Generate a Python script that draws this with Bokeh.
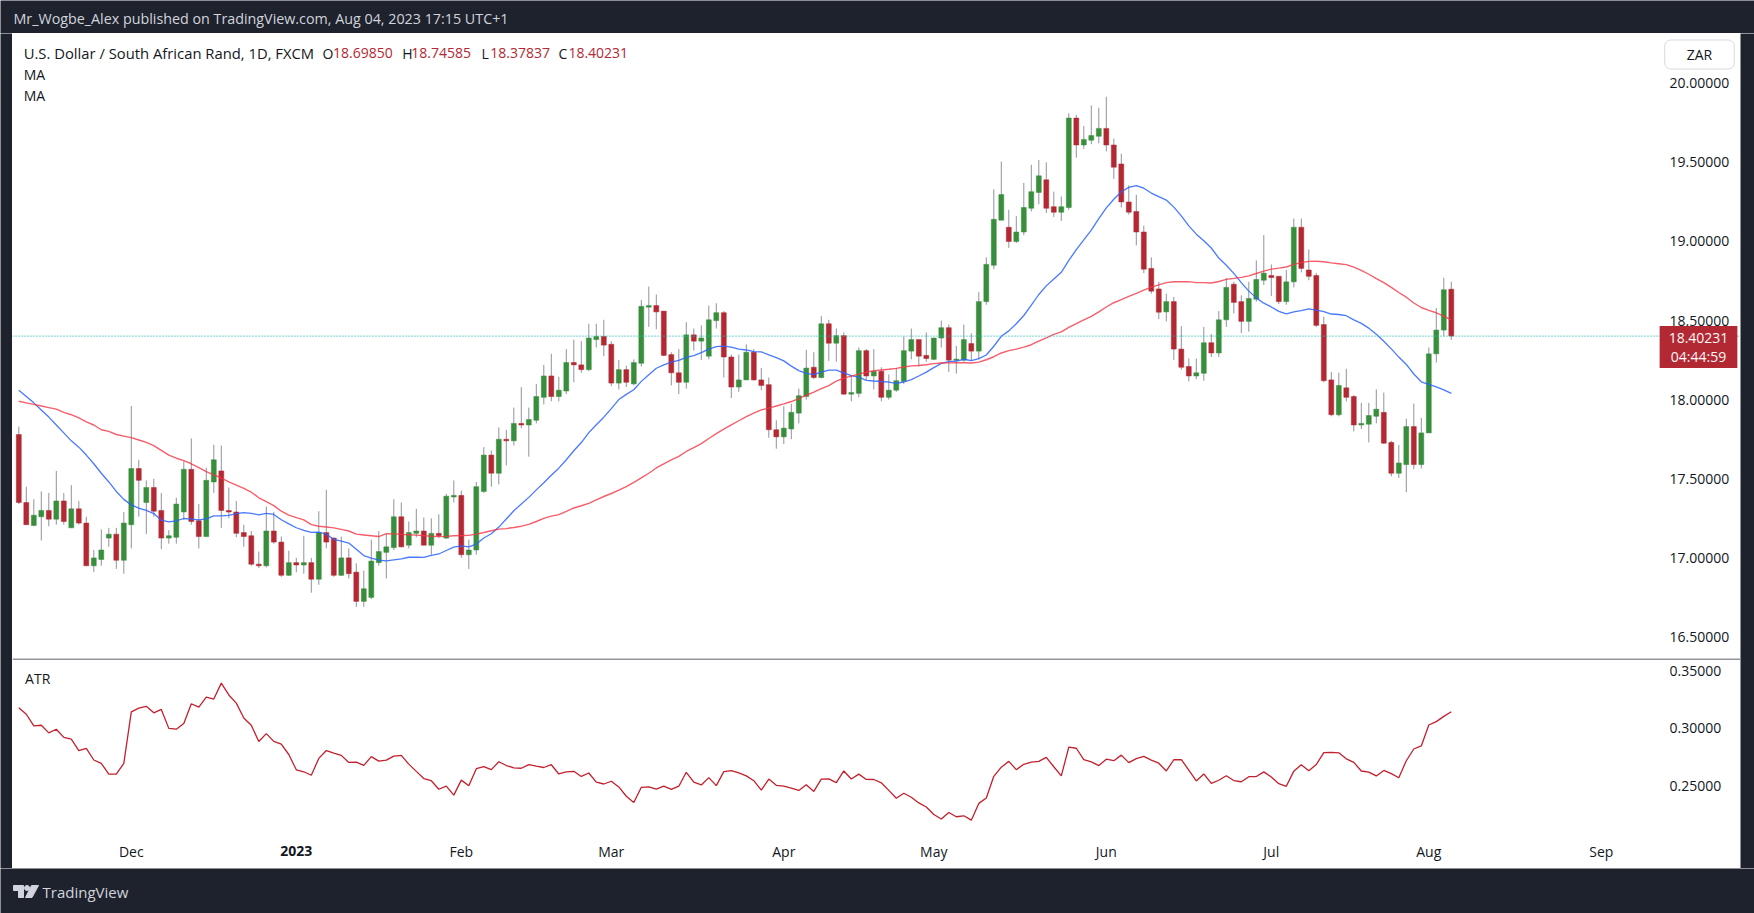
import numpy as np
import pandas as pd
from bokeh.plotting import figure
from bokeh.layouts import column, row
from bokeh.models import Range1d, FixedTicker, PrintfTickFormatter, Label, Span, ColumnDataSource
from bokeh.embed import file_html
from bokeh.resources import INLINE

# ---------------- data ----------------
opens = [17.78, 17.35, 17.205, 17.26, 17.30, 17.245, 17.36, 17.19, 17.31, 17.22,
         16.95, 16.99, 17.125, 17.15, 16.985, 17.21, 17.565, 17.35, 17.445, 17.30,
         17.125, 17.13, 17.29, 17.56, 17.235, 17.135, 17.48, 17.55, 17.30, 17.29,
         17.16, 17.14, 16.96, 16.95, 17.17, 17.10, 16.89, 16.97, 16.955, 16.97,
         16.865, 17.16, 17.125, 16.89, 17.00, 16.91, 16.725, 16.75, 16.97, 17.035,
         17.065, 17.26, 17.08, 17.155, 17.17, 17.08, 17.155, 17.125, 17.385, 17.395,
         17.02, 17.05, 17.42, 17.65, 17.535, 17.75, 17.74, 17.85, 17.84, 17.87,
         18.015, 18.15, 18.02, 18.055, 18.235, 18.22, 18.19, 18.38, 18.40, 18.35,
         18.105, 18.19, 18.10, 18.23, 18.585, 18.595, 18.56, 18.285, 18.17, 18.11,
         18.41, 18.37, 18.275, 18.50, 18.55, 18.27, 18.08, 18.125, 18.30, 18.125,
         18.095, 17.81, 17.765, 17.815, 17.915, 18.02, 18.205, 18.14, 18.48, 18.357,
         18.405, 18.035, 18.04, 18.31, 18.15, 18.18, 18.015, 18.06, 18.115, 18.307,
         18.38, 18.28, 18.255, 18.39, 18.455, 18.25, 18.25, 18.355, 18.307, 18.62,
         18.85, 19.135, 19.09, 19.00, 19.06, 19.21, 19.31, 19.39, 19.22, 19.185,
         19.215, 19.78, 19.61, 19.64, 19.665, 19.715, 19.61, 19.49, 19.25, 19.19,
         19.06, 18.83, 18.70, 18.555, 18.62, 18.32, 18.21, 18.15, 18.167, 18.36,
         18.295, 18.505, 18.73, 18.62, 18.495, 18.635, 18.755, 18.785, 18.78, 18.62,
         18.745, 19.09, 18.82, 18.785, 18.475, 18.125, 17.905, 18.075, 18.02, 17.84,
         17.845, 17.895, 17.92, 17.73, 17.535, 17.59, 17.83, 17.59, 17.79, 18.29,
         18.44, 18.6985]
highs = [17.83, 17.45, 17.37, 17.42, 17.41, 17.55, 17.41, 17.46, 17.36, 17.26,
         17.05, 17.18, 17.19, 17.19, 17.29, 17.96, 17.62, 17.49, 17.50, 17.41,
         17.175, 17.38, 17.61, 17.755, 17.34, 17.57, 17.715, 17.71, 17.445, 17.36,
         17.21, 17.17, 17.04, 17.325, 17.29, 17.135, 17.045, 17.00, 17.14, 17.00,
         17.295, 17.43, 17.13, 17.135, 17.06, 16.965, 16.92, 17.115, 17.17, 17.155,
         17.37, 17.35, 17.23, 17.31, 17.255, 17.25, 17.275, 17.405, 17.49, 17.425,
         17.115, 17.48, 17.70, 17.68, 17.825, 17.81, 17.95, 18.08, 17.95, 18.10,
         18.22, 18.29, 18.145, 18.32, 18.38, 18.37, 18.48, 18.48, 18.505, 18.37,
         18.25, 18.215, 18.255, 18.63, 18.715, 18.665, 18.56, 18.30, 18.32, 18.49,
         18.45, 18.47, 18.595, 18.61, 18.56, 18.285, 18.285, 18.35, 18.32, 18.20,
         18.14, 17.87, 17.96, 17.975, 18.07, 18.315, 18.30, 18.53, 18.505, 18.45,
         18.425, 18.155, 18.33, 18.32, 18.32, 18.205, 18.16, 18.20, 18.40, 18.45,
         18.38, 18.425, 18.39, 18.50, 18.475, 18.34, 18.475, 18.42, 18.68, 18.90,
         19.33, 19.505, 19.20, 19.16, 19.37, 19.485, 19.515, 19.50, 19.315, 19.285,
         19.81, 19.80, 19.73, 19.86, 19.845, 19.915, 19.65, 19.555, 19.355, 19.295,
         19.10, 18.90, 18.745, 18.67, 18.65, 18.465, 18.26, 18.26, 18.46, 18.415,
         18.56, 18.77, 18.745, 18.66, 18.745, 18.88, 19.04, 18.855, 18.78, 18.82,
         19.145, 19.145, 18.95, 18.80, 18.525, 18.175, 18.17, 18.195, 18.03, 17.98,
         17.98, 18.065, 18.045, 17.74, 17.715, 17.88, 17.975, 17.885, 18.33, 18.58,
         18.77, 18.74585]
lows = [17.34, 17.21, 17.20, 17.11, 17.20, 17.21, 17.21, 17.19, 17.21, 16.95,
        16.91, 16.95, 17.07, 16.93, 16.90, 17.06, 17.26, 17.15, 17.26, 17.055,
        17.09, 17.09, 17.24, 17.21, 17.06, 17.13, 17.41, 17.19, 17.25, 17.13,
        17.07, 16.95, 16.935, 16.94, 17.09, 16.88, 16.885, 16.91, 16.90, 16.78,
        16.83, 17.06, 16.88, 16.885, 16.87, 16.69, 16.69, 16.74, 16.95, 16.87,
        17.05, 17.065, 17.06, 17.13, 17.08, 17.02, 17.125, 17.12, 17.35, 17.00,
        16.93, 17.02, 17.41, 17.45, 17.465, 17.585, 17.71, 17.82, 17.64, 17.85,
        17.97, 17.99, 17.99, 18.035, 18.11, 18.17, 18.18, 18.33, 18.275, 18.085,
        18.065, 18.08, 18.09, 18.21, 18.46, 18.445, 18.275, 18.09, 18.035, 18.07,
        18.31, 18.25, 18.255, 18.45, 18.14, 18.01, 18.05, 18.125, 18.12, 18.06,
        17.76, 17.69, 17.72, 17.75, 17.85, 18.00, 18.13, 18.135, 18.245, 18.24,
        18.03, 17.99, 18.015, 18.125, 18.065, 17.99, 18.00, 18.05, 18.10, 18.255,
        18.21, 18.24, 18.25, 18.33, 18.175, 18.165, 18.24, 18.25, 18.255, 18.60,
        18.825, 19.135, 18.96, 18.99, 19.04, 19.19, 19.235, 19.18, 19.155, 19.13,
        19.20, 19.53, 19.585, 19.615, 19.62, 19.57, 19.395, 19.215, 19.17, 18.975,
        18.80, 18.67, 18.51, 18.495, 18.25, 18.19, 18.115, 18.13, 18.12, 18.27,
        18.27, 18.46, 18.545, 18.42, 18.43, 18.62, 18.725, 18.655, 18.605, 18.60,
        18.71, 18.805, 18.755, 18.46, 18.11, 17.895, 17.895, 17.99, 17.80, 17.815,
        17.73, 17.85, 17.72, 17.515, 17.505, 17.415, 17.56, 17.565, 17.79, 18.235,
        18.40, 18.37837]
closes = [17.35, 17.21, 17.27, 17.30, 17.245, 17.36, 17.23, 17.31, 17.22, 16.95,
          17.00, 17.05, 17.15, 16.985, 17.22, 17.565, 17.49, 17.445, 17.295, 17.125,
          17.14, 17.34, 17.56, 17.23, 17.135, 17.49, 17.62, 17.30, 17.29, 17.155,
          17.135, 16.96, 16.95, 17.17, 17.10, 16.89, 16.97, 16.955, 16.97, 16.865,
          17.16, 17.10, 16.89, 17.00, 16.90, 16.725, 16.805, 16.98, 17.04, 17.07,
          17.26, 17.07, 17.16, 17.17, 17.08, 17.155, 17.14, 17.39, 17.395, 17.02,
          17.05, 17.45, 17.65, 17.535, 17.75, 17.74, 17.85, 17.84, 17.875, 18.02,
          18.15, 18.02, 18.06, 18.235, 18.22, 18.19, 18.39, 18.40, 18.345, 18.105,
          18.19, 18.11, 18.235, 18.59, 18.595, 18.555, 18.28, 18.17, 18.11, 18.41,
          18.37, 18.39, 18.505, 18.55, 18.27, 18.08, 18.125, 18.30, 18.125, 18.09,
          17.81, 17.765, 17.82, 17.92, 18.025, 18.20, 18.14, 18.48, 18.357, 18.405,
          18.035, 18.045, 18.31, 18.15, 18.18, 18.015, 18.06, 18.12, 18.31, 18.38,
          18.275, 18.26, 18.39, 18.455, 18.25, 18.255, 18.38, 18.307, 18.62, 18.855,
          19.14, 19.297, 19.00, 19.06, 19.215, 19.315, 19.415, 19.21, 19.185, 19.22,
          19.78, 19.61, 19.645, 19.67, 19.715, 19.61, 19.47, 19.25, 19.185, 19.06,
          18.825, 18.686, 18.553, 18.62, 18.32, 18.205, 18.15, 18.17, 18.36, 18.295,
          18.505, 18.71, 18.615, 18.495, 18.64, 18.76, 18.80, 18.772, 18.62, 18.745,
          19.09, 18.83, 18.78, 18.47, 18.12, 17.905, 18.09, 18.015, 17.84, 17.85,
          17.90, 17.94, 17.725, 17.535, 17.60, 17.83, 17.59, 17.79, 18.29, 18.44,
          18.695, 18.40231]

# moving-average values at the left edge (before enough history is on screen)
ma20_head = [18.06, 18.02, 17.98, 17.935, 17.89, 17.84, 17.79, 17.74, 17.70, 17.65,
             17.595, 17.535, 17.48, 17.42, 17.37, 17.335, 17.315, 17.30, 17.28]
ma50_head = [17.99, 17.98, 17.97, 17.96, 17.95, 17.94, 17.92, 17.905, 17.885, 17.86,
             17.84, 17.81, 17.80, 17.78, 17.77, 17.76, 17.745, 17.73, 17.71, 17.68,
             17.65, 17.63, 17.615, 17.595, 17.57, 17.545, 17.525, 17.505, 17.48, 17.46,
             17.44, 17.415, 17.38, 17.355, 17.33, 17.295, 17.27, 17.255, 17.24, 17.21,
             17.20, 17.195, 17.19, 17.18, 17.17, 17.15, 17.145, 17.14, 17.135]
atr_first = 0.318   # ATR(14) value shown at the first visible bar

first_date = "2022-11-10"
tick_labels = ["Dec", "2023", "Feb", "Mar", "Apr", "May", "Jun", "Jul", "Aug", "Sep"]
price_ticks = [16.5, 17.0, 17.5, 18.0, 18.5, 19.0, 19.5, 20.0]
atr_ticks = [0.25, 0.30, 0.35]
last_price = 18.40231
countdown = "04:44:59"
header_text = "Mr_Wogbe_Alex published on TradingView.com, Aug 04, 2023 17:15 UTC+1"
symbol_text = "U.S. Dollar / South African Rand, 1D, FXCM"

# ---------------- derived series ----------------
o = np.array(opens); h = np.array(highs); l = np.array(lows); c = np.array(closes)
n = len(c)
assert len(o) == n and len(h) == n and len(l) == n
x = np.arange(n)

ma20 = list(ma20_head) + [float(np.mean(c[i - 19:i + 1])) for i in range(19, n)]
ma50 = list(ma50_head) + [float(np.mean(c[i - 49:i + 1])) for i in range(49, n)]

atr = [atr_first]
for i in range(1, n):
    tr = max(h[i] - l[i], abs(h[i] - c[i - 1]), abs(l[i] - c[i - 1]))
    atr.append((atr[-1] * 13 + tr) / 14)

dates = pd.bdate_range(first_date, periods=n + 40)
tick_pos = [i for i in range(1, len(dates)) if dates[i].month != dates[i - 1].month][:len(tick_labels)]

# ---------------- style ----------------
DARK = "#1e222d"
TXT = "#131722"
UP = "#388e3c"
DOWN = "#b22833"
WICK = "#8f939d"
FONT = "Open Sans"
FS = "14px"

TOTAL_W = 1754
MAIN_W = 1728
PX_PER_BAR = 7.5
X0 = -0.84
xr = Range1d(X0, X0 + MAIN_W / PX_PER_BAR)
SCALE_AT = X0 + 1645 / PX_PER_BAR       # where the price scale begins


def bare(w, hgt, **kw):
    f = figure(width=w, height=hgt, toolbar_location=None, output_backend="svg",
               x_axis_location=None, y_axis_location=None,
               min_border_left=0, min_border_right=0, min_border_top=0, min_border_bottom=0,
               background_fill_color=DARK, border_fill_color=DARK, outline_line_color=None, **kw)
    f.xgrid.visible = False
    f.ygrid.visible = False
    return f


def style_axis(a):
    a.axis_line_color = None
    a.major_tick_line_color = None
    a.minor_tick_line_color = None
    a.major_tick_out = 0
    a.major_tick_in = 0
    a.minor_tick_out = 0
    a.minor_tick_in = 0
    a.major_label_text_font = FONT
    a.major_label_text_font_size = FS
    a.major_label_text_color = TXT


# ---------------- header ----------------
hdr = bare(TOTAL_W, 33, x_range=Range1d(0, TOTAL_W), y_range=Range1d(0, 33))
hdr.add_layout(Label(x=13, y=15, text=header_text, text_font=FONT, text_font_size="14.3px",
                     text_color="#d1d4dc", text_baseline="middle"))

# ---------------- price pane ----------------
p = figure(width=MAIN_W, height=625, x_range=xr, y_range=Range1d(16.364, 20.3148),
           x_axis_location=None, y_axis_location="right", toolbar_location=None,
           output_backend="svg", min_border_left=0, min_border_right=0,
           min_border_top=0, min_border_bottom=0, background_fill_color="white",
           border_fill_color="white", outline_line_color=None)
p.xgrid.visible = False
p.ygrid.visible = False

body_top = np.maximum(o, c)
body_bot = np.minimum(o, c)
tiny = (body_top - body_bot) < 0.008
mid = (body_top + body_bot) / 2
body_top = np.where(tiny, mid + 0.004, body_top)
body_bot = np.where(tiny, mid - 0.004, body_bot)
cols = np.where(c >= o, UP, DOWN)
src = ColumnDataSource(dict(x=x, high=h, low=l, top=body_top, bottom=body_bot, color=cols))

p.add_layout(Span(location=last_price, dimension="width", line_color="#1fc3b3",
                  line_dash="1 2", line_width=1.2))
p.segment(x0="x", y0="high", x1="x", y1="low", source=src, color=WICK, line_width=1)
p.vbar(x="x", width=0.66, top="top", bottom="bottom", source=src,
       fill_color="color", line_color="color", line_width=0.5)
p.line(x, ma20, line_color="#2962ff", line_width=1.3, line_alpha=0.85)
p.line(x, ma50, line_color="#f23645", line_width=1.4, line_alpha=0.8)

ax = p.yaxis[0]
ax.ticker = FixedTicker(ticks=price_ticks)
ax.formatter = PrintfTickFormatter(format="%.5f")
style_axis(ax)
ax.fixed_location = SCALE_AT
ax.major_label_standoff = 12

# legend texts (screen units inside the pane)
leg_y = 605.4
pieces = [(11.2, symbol_text, TXT, "14.8px"), (310, "O", TXT, FS), (320.6, "%.5f" % opens[-1], DOWN, FS),
          (389.8, "H", TXT, FS), (398.7, "%.5f" % highs[-1], DOWN, FS),
          (469, "L", TXT, FS), (477.7, "%.5f" % lows[-1], DOWN, FS),
          (546, "C", TXT, FS), (555.9, "%.5f" % closes[-1], DOWN, FS)]
for px_, t, col, fs in pieces:
    p.add_layout(Label(x=px_, y=leg_y, x_units="screen", y_units="screen", text=t,
                       text_font=FONT, text_font_size=fs, text_color=col, text_baseline="middle"))
for yy in (584.2, 563.0):
    p.add_layout(Label(x=11.2, y=yy, x_units="screen", y_units="screen", text="MA",
                       text_font=FONT, text_font_size=FS, text_color=TXT, text_baseline="middle"))

# currency box and last-price box on the price scale  (padding: left, right, top, bottom)
p.add_layout(Label(x=1687, y=604, x_units="screen", y_units="screen", text="ZAR",
                   text_font=FONT, text_font_size=FS, text_color=TXT, text_align="center",
                   text_baseline="middle", background_fill_color="white",
                   border_line_color="#d6d9e0", border_line_width=1,
                   padding=(22, 22, 5, 5), border_radius=6))
p.add_layout(Label(x=1686, y=311.5, x_units="screen", y_units="screen",
                   text="%.5f\n%s" % (last_price, countdown),
                   text_font=FONT, text_font_size=FS, text_color="#f8f8f8", text_align="center",
                   text_baseline="middle", background_fill_color=DOWN,
                   padding=(9, 9, 2, 2), text_line_height=1.0))

# ---------------- ATR pane ----------------
ATR_PER_PX = 0.000873
ATR_TOP = 0.36109       # value at the top pixel row of the pane
ATR_BOT = 0.17776       # value at the bottom pixel row of the pane
AXIS_AT = 0.20569       # value where the time scale begins
pa = figure(width=MAIN_W, height=210, x_range=xr, y_range=Range1d(ATR_BOT, ATR_TOP),
            x_axis_location="below", y_axis_location="right", toolbar_location=None,
            output_backend="svg", min_border_left=0, min_border_right=0,
            min_border_top=0, min_border_bottom=0, background_fill_color="white",
            border_fill_color="white", outline_line_color=None)
pa.xgrid.visible = False
pa.ygrid.visible = False
pa.add_layout(Span(location=ATR_TOP - 0.5 * ATR_PER_PX, dimension="width",
                   line_color="#2a2e39", line_width=1))
pa.line(x, atr, line_color="#c2202c", line_width=1.3)

ay = pa.yaxis[0]
ay.ticker = FixedTicker(ticks=atr_ticks)
ay.formatter = PrintfTickFormatter(format="%.5f")
style_axis(ay)
ay.fixed_location = SCALE_AT
ay.major_label_standoff = 12

axx = pa.xaxis[0]
style_axis(axx)
axx.fixed_location = AXIS_AT
axx.ticker = FixedTicker(ticks=tick_pos)
overrides = {int(tp): lab for tp, lab in zip(tick_pos, tick_labels)}
bold_ticks = [(tp, lab) for tp, lab in zip(tick_pos, tick_labels) if lab.isdigit()]
for tp, lab in bold_ticks:
    overrides[int(tp)] = ""
axx.major_label_overrides = overrides
axx.major_label_standoff = 5
for tp, lab in bold_ticks:
    pa.add_layout(Label(x=tp, y=AXIS_AT - 14 * ATR_PER_PX, text=lab, text_font=FONT,
                        text_font_size=FS, text_font_style="bold", text_color=TXT,
                        text_align="center", text_baseline="middle"))

pa.add_layout(Label(x=X0 + 12.6 / PX_PER_BAR, y=ATR_TOP - 20 * ATR_PER_PX, text="ATR",
                    text_font=FONT, text_font_size=FS, text_color=TXT, text_baseline="middle"))

# ---------------- side strips and footer ----------------
left = bare(12, 835)
right = bare(14, 835)

ftr = bare(TOTAL_W, 45, x_range=Range1d(0, TOTAL_W), y_range=Range1d(0, 45))
LOGO = "#d1d4dc"
ftr.patch([13, 23, 23, 18, 18, 13], [28, 28, 16, 16, 23, 23], color=LOGO)
ftr.scatter([26.5], [25.5], size=5, color=LOGO)
ftr.patch([31, 38, 31.5, 25], [28, 28, 16, 16], color=LOGO)
ftr.add_layout(Label(x=42, y=21.5, text="TradingView", text_font=FONT, text_font_size="15px",
                     text_color=LOGO, text_baseline="middle"))

layout = column(hdr, row(left, column(p, pa, spacing=0), right, spacing=0), ftr, spacing=0)

open("out.html", "w").write(file_html(layout, INLINE))
